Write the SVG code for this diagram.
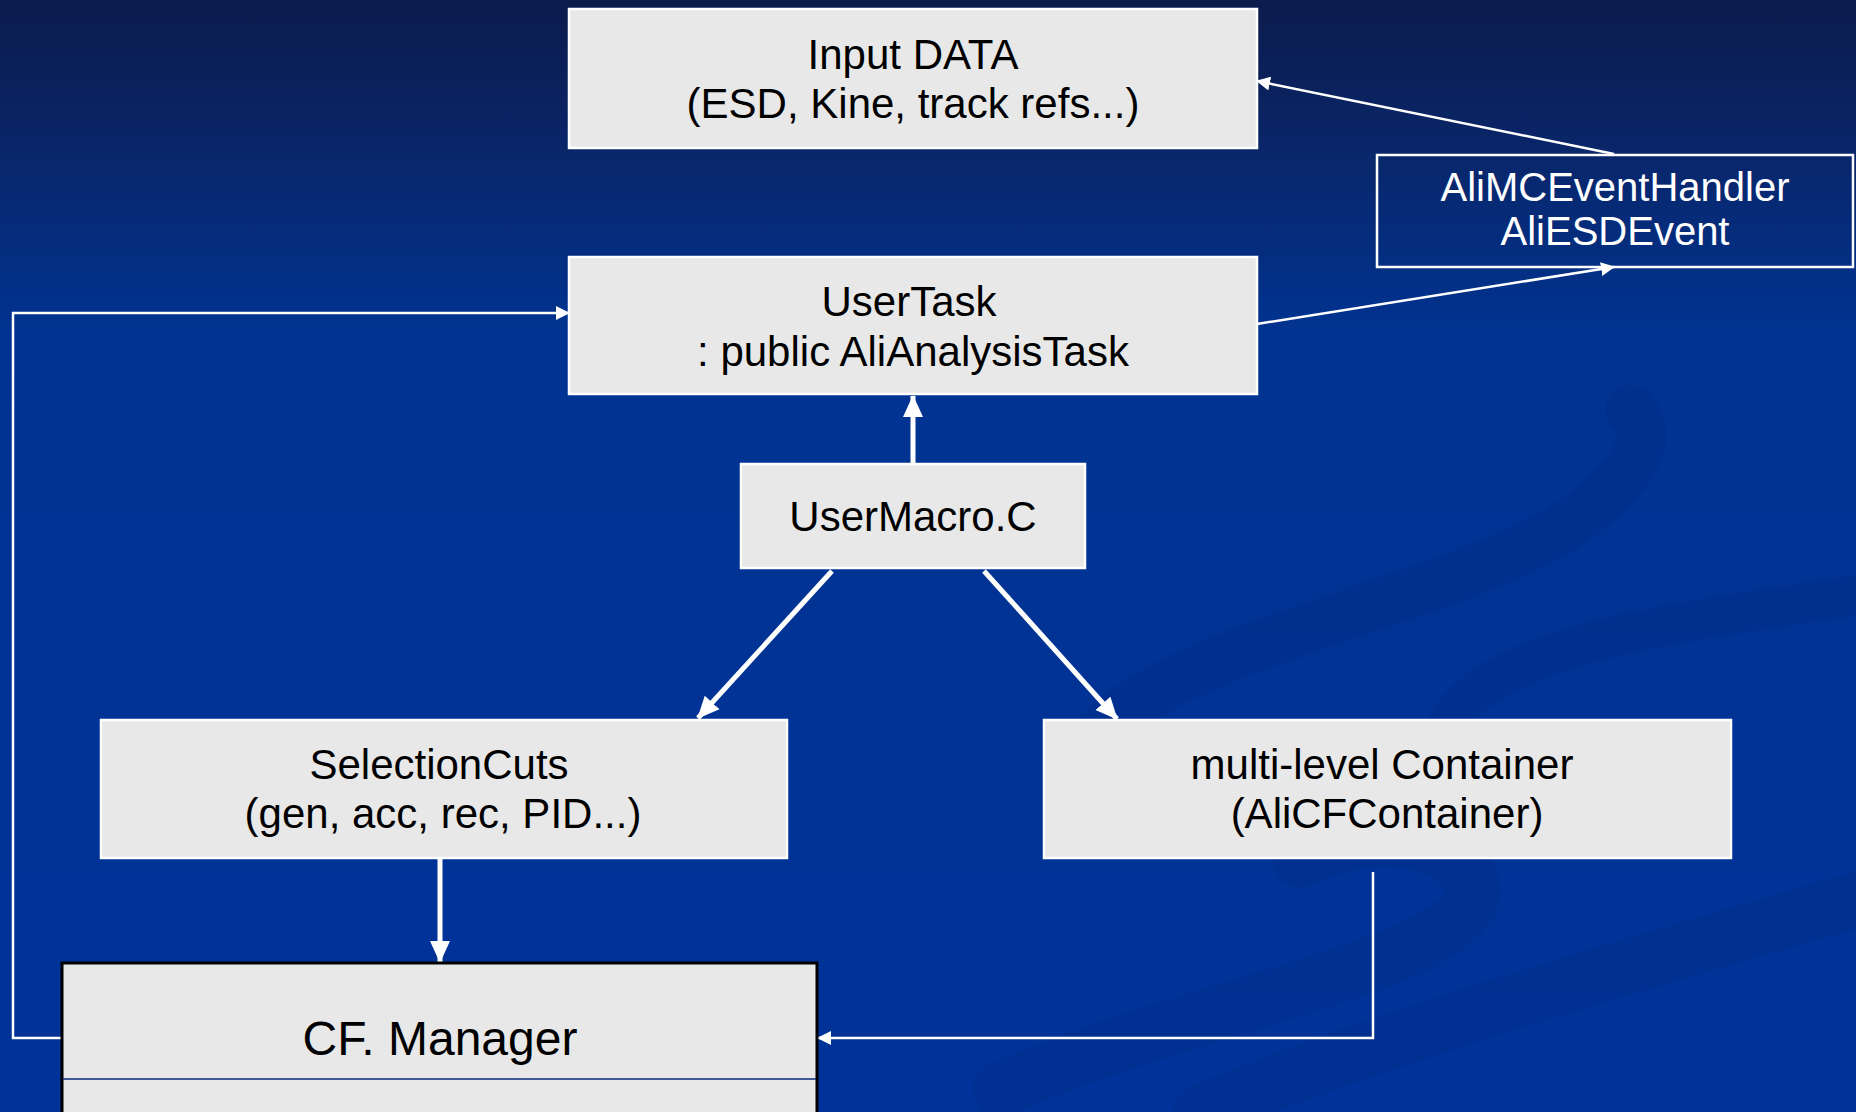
<svg xmlns="http://www.w3.org/2000/svg" width="1856" height="1112" viewBox="0 0 1856 1112">
<defs>
<linearGradient id="bg" x1="0" y1="0" x2="0" y2="1">
<stop offset="0" stop-color="#0b1b4c"/>
<stop offset="0.12" stop-color="#0a2566"/>
<stop offset="0.3" stop-color="#003391"/>
<stop offset="1" stop-color="#003399"/>
</linearGradient>
<marker id="ahThick" markerUnits="userSpaceOnUse" markerWidth="22" markerHeight="22" viewBox="0 0 22 22" refX="21" refY="11" orient="auto">
<path d="M0,1 L22,11 L0,21 Z" fill="#ffffff"/>
</marker>
<marker id="ahThin" markerUnits="userSpaceOnUse" markerWidth="14" markerHeight="14" viewBox="0 0 14 14" refX="13" refY="7" orient="auto">
<path d="M0,0 L14,7 L0,14 Z" fill="#ffffff"/>
</marker>
</defs>
<style>
.box{fill:#e8e8e8;stroke:#ffffff;stroke-width:2.5}
.t{font-family:"Liberation Sans",Arial,sans-serif;font-size:42px;fill:#000000;text-anchor:middle}
.tw{font-family:"Liberation Sans",Arial,sans-serif;font-size:40px;fill:#ffffff;text-anchor:middle}
.thick{stroke:#ffffff;stroke-width:5;fill:none;marker-end:url(#ahThick)}
.thin{stroke:#ffffff;stroke-width:2.5;fill:none;marker-end:url(#ahThin)}
.swoosh{fill:none;stroke:#002a80;stroke-opacity:0.3;stroke-linecap:round}
</style>
<rect x="0" y="0" width="1856" height="1112" fill="url(#bg)"/>
<g id="background-swooshes">
<path class="swoosh" stroke-width="50" d="M1070,770 C1130,650 1400,620 1560,530 C1650,470 1650,430 1630,410"/>
<path class="swoosh" stroke-width="40" d="M1450,720 C1500,640 1700,620 1856,595"/>
<path class="swoosh" stroke-width="55" d="M1000,1090 C1200,1000 1500,960 1470,880 C1450,830 1360,830 1300,860"/>
<path class="swoosh" stroke-width="55" d="M1200,1112 C1400,1030 1650,960 1856,900"/>
</g>
<g id="connectors">
<path class="thick" d="M913,463 L913,396"/>
<path class="thick" d="M832,571 L698,718"/>
<path class="thick" d="M984,571 L1117,719"/>
<path class="thick" d="M440,859 L440,962"/>
<path class="thin" d="M1373,872 L1373,1038 L818,1038"/>
<path class="thin" d="M62,1038 L13,1038 L13,313 L569,313"/>
<path class="thin" d="M1257,324 L1614,267"/>
<path class="thin" d="M1614,154 L1257,81"/>
</g>
<g id="input-data">
<rect class="box" x="569" y="9" width="688" height="139"/>
<text class="t" x="913" y="69">Input DATA</text>
<text class="t" x="913" y="118">(ESD, Kine, track refs...)</text>
</g>
<g id="user-task">
<rect class="box" x="569" y="257" width="688" height="137"/>
<text class="t" x="909" y="316">UserTask</text>
<text class="t" x="913" y="366">: public AliAnalysisTask</text>
</g>
<g id="event-handler">
<rect x="1377" y="155" width="476" height="112" fill="none" stroke="#ffffff" stroke-width="2.5"/>
<text class="tw" x="1615" y="201">AliMCEventHandler</text>
<text class="tw" x="1615" y="245">AliESDEvent</text>
</g>
<g id="user-macro">
<rect class="box" x="741" y="464" width="344" height="104"/>
<text class="t" x="913" y="531">UserMacro.C</text>
</g>
<g id="selection-cuts">
<rect class="box" x="101" y="720" width="686" height="138"/>
<text class="t" x="439" y="779">SelectionCuts</text>
<text class="t" x="443" y="828">(gen, acc, rec, PID...)</text>
</g>
<g id="container">
<rect class="box" x="1044" y="720" width="687" height="138"/>
<text class="t" x="1382" y="779">multi-level Container</text>
<text class="t" x="1387" y="828">(AliCFContainer)</text>
</g>
<g id="cf-manager">
<rect x="62" y="963" width="755" height="160" fill="#e8e8e8" stroke="#000000" stroke-width="3"/>
<line x1="63" y1="1079" x2="816" y2="1079" stroke="#0a2a7a" stroke-width="1.5"/>
<text class="t" x="440" y="1055" style="font-size:48px">CF. Manager</text>
</g>
</svg>
